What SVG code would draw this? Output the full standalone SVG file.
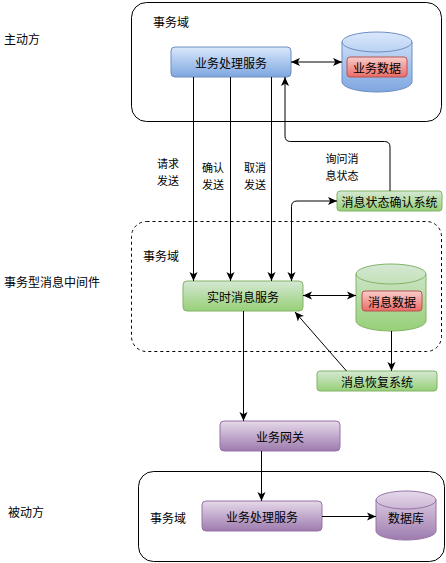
<svg xmlns="http://www.w3.org/2000/svg" width="446" height="563" viewBox="0 0 446 563">
<defs>
<linearGradient id="gBlue" x1="0" y1="0" x2="0" y2="1"><stop offset="0" stop-color="#dae8fc"/><stop offset="1" stop-color="#7ea6e0"/></linearGradient>
<linearGradient id="gGreen" x1="0" y1="0" x2="0" y2="1"><stop offset="0" stop-color="#d5e8d4"/><stop offset="1" stop-color="#97d077"/></linearGradient>
<linearGradient id="gRed" x1="0" y1="0" x2="0" y2="1"><stop offset="0" stop-color="#f8cecc"/><stop offset="1" stop-color="#ea6b66"/></linearGradient>
<linearGradient id="gPurple" x1="0" y1="0" x2="0" y2="1"><stop offset="0" stop-color="#e6d9ea"/><stop offset="1" stop-color="#9d7bae"/></linearGradient>
<marker id="arr" viewBox="0 0 10 10" refX="10" refY="5" markerWidth="9" markerHeight="9" markerUnits="userSpaceOnUse" orient="auto-start-reverse">
<path d="M0,0.5 L10,5 L0,9.5 L2.5,5 Z" fill="#000"/>
</marker>
</defs>
<style>
text{font-family:"Noto Sans CJK SC","Noto Sans",sans-serif;font-size:12px;fill:#000;dominant-baseline:central}
.c{text-anchor:middle}
.lbl{font-size:11px}
.frame{fill:#fff;stroke:#000;stroke-width:1}
.dash{fill:none;stroke:#000;stroke-width:1;stroke-dasharray:3,3}
.blue{fill:url(#gBlue);stroke:#6c8ebf}
.green{fill:url(#gGreen);stroke:#82b366}
.red{fill:url(#gRed);stroke:#b85450}
.purple{fill:url(#gPurple);stroke:#9673a6}
.e{fill:none;stroke:#000;stroke-width:1}
.both{marker-start:url(#arr);marker-end:url(#arr)}
.end{marker-end:url(#arr)}
</style>
<rect width="446" height="563" fill="#fff"/>

<g id="side-labels">
<text x="4" y="38">主动方</text>
<text x="4" y="281">事务型消息中间件</text>
<text x="8" y="511">被动方</text>
</g>

<g id="domain-top">
<rect class="frame" x="131.5" y="2.5" width="310" height="119" rx="15"/>
<text x="153" y="21">事务域</text>
</g>
<g id="domain-mid">
<rect class="dash" x="131.5" y="221.5" width="310" height="130" rx="15"/>
<text x="143" y="255">事务域</text>
</g>
<g id="domain-bottom">
<rect class="frame" x="138.5" y="471.5" width="306" height="90" rx="15"/>
<text x="150" y="517">事务域</text>
</g>

<g id="biz-service-top">
<rect class="blue" x="171" y="47" width="120" height="30" rx="4"/>
<text class="c" x="231" y="62">业务处理服务</text>
</g>
<g id="biz-data">
<path class="blue" d="M342,42 a35,10 0 0 1 70,0 v40 a35,10 0 0 1 -70,0 z"/>
<path fill="none" stroke="#6c8ebf" d="M342,42 a35,10 0 0 0 70,0"/>
<rect class="red" x="347" y="57" width="60" height="20" rx="3"/>
<text class="c" x="377" y="67">业务数据</text>
</g>

<g id="msg-confirm">
<rect class="green" x="337" y="191" width="105" height="20" rx="3"/>
<text class="c" x="389.5" y="201">消息状态确认系统</text>
</g>
<g id="realtime-msg">
<rect class="green" x="183" y="281" width="120" height="30" rx="4"/>
<text class="c" x="243" y="296">实时消息服务</text>
</g>
<g id="msg-data">
<path class="green" d="M356,274 a35,10 0 0 1 70,0 v47 a35,10 0 0 1 -70,0 z"/>
<path fill="none" stroke="#82b366" d="M356,274 a35,10 0 0 0 70,0"/>
<rect class="red" x="362" y="291" width="60" height="20" rx="3"/>
<text class="c" x="392" y="301">消息数据</text>
</g>
<g id="msg-recover">
<rect class="green" x="317" y="371" width="120" height="20" rx="3"/>
<text class="c" x="377" y="381">消息恢复系统</text>
</g>

<g id="gateway">
<rect class="purple" x="220" y="421" width="120" height="30" rx="4"/>
<text class="c" x="280" y="436">业务网关</text>
</g>
<g id="biz-service-bottom">
<rect class="purple" x="202" y="501" width="120" height="30" rx="4"/>
<text class="c" x="262" y="516">业务处理服务</text>
</g>
<g id="database">
<path class="purple" d="M376,500 a30,9 0 0 1 60,0 v31 a30,9 0 0 1 -60,0 z"/>
<path fill="none" stroke="#9673a6" d="M376,500 a30,9 0 0 0 60,0"/>
<text class="c" x="406" y="517">数据库</text>
</g>

<g id="connectors">
<path class="e both" d="M291,62 H342"/>
<path class="e end" d="M193.5,77 V281"/>
<path class="e end" d="M230.5,77 V281"/>
<path class="e end" d="M271.5,77 V281"/>
<path class="e end" d="M390,191 V147 Q390,141.5 384.5,141.5 H290.5 Q285,141.5 285,136 V77"/>
<path class="e both" d="M291.5,281 V206.5 Q291.5,201 297,201 H337"/>
<path class="e both" d="M303,295.5 H356"/>
<path class="e end" d="M391.5,331 V371"/>
<path class="e end" stroke-width="0.8" d="M346.5,371 L295,312"/>
<path class="e end" d="M243.5,311 V421"/>
<path class="e end" d="M261.5,451 V501"/>
<path class="e end" d="M322,516.5 H376"/>
</g>

<g id="edge-labels">
<text class="c lbl" x="168" y="163">请求</text>
<text class="c lbl" x="168" y="180">发送</text>
<text class="c lbl" x="213" y="167">确认</text>
<text class="c lbl" x="213" y="184">发送</text>
<text class="c lbl" x="255" y="167">取消</text>
<text class="c lbl" x="255" y="184">发送</text>
<text class="c lbl" x="342" y="158">询问消</text>
<text class="c lbl" x="342" y="175">息状态</text>
</g>
</svg>
